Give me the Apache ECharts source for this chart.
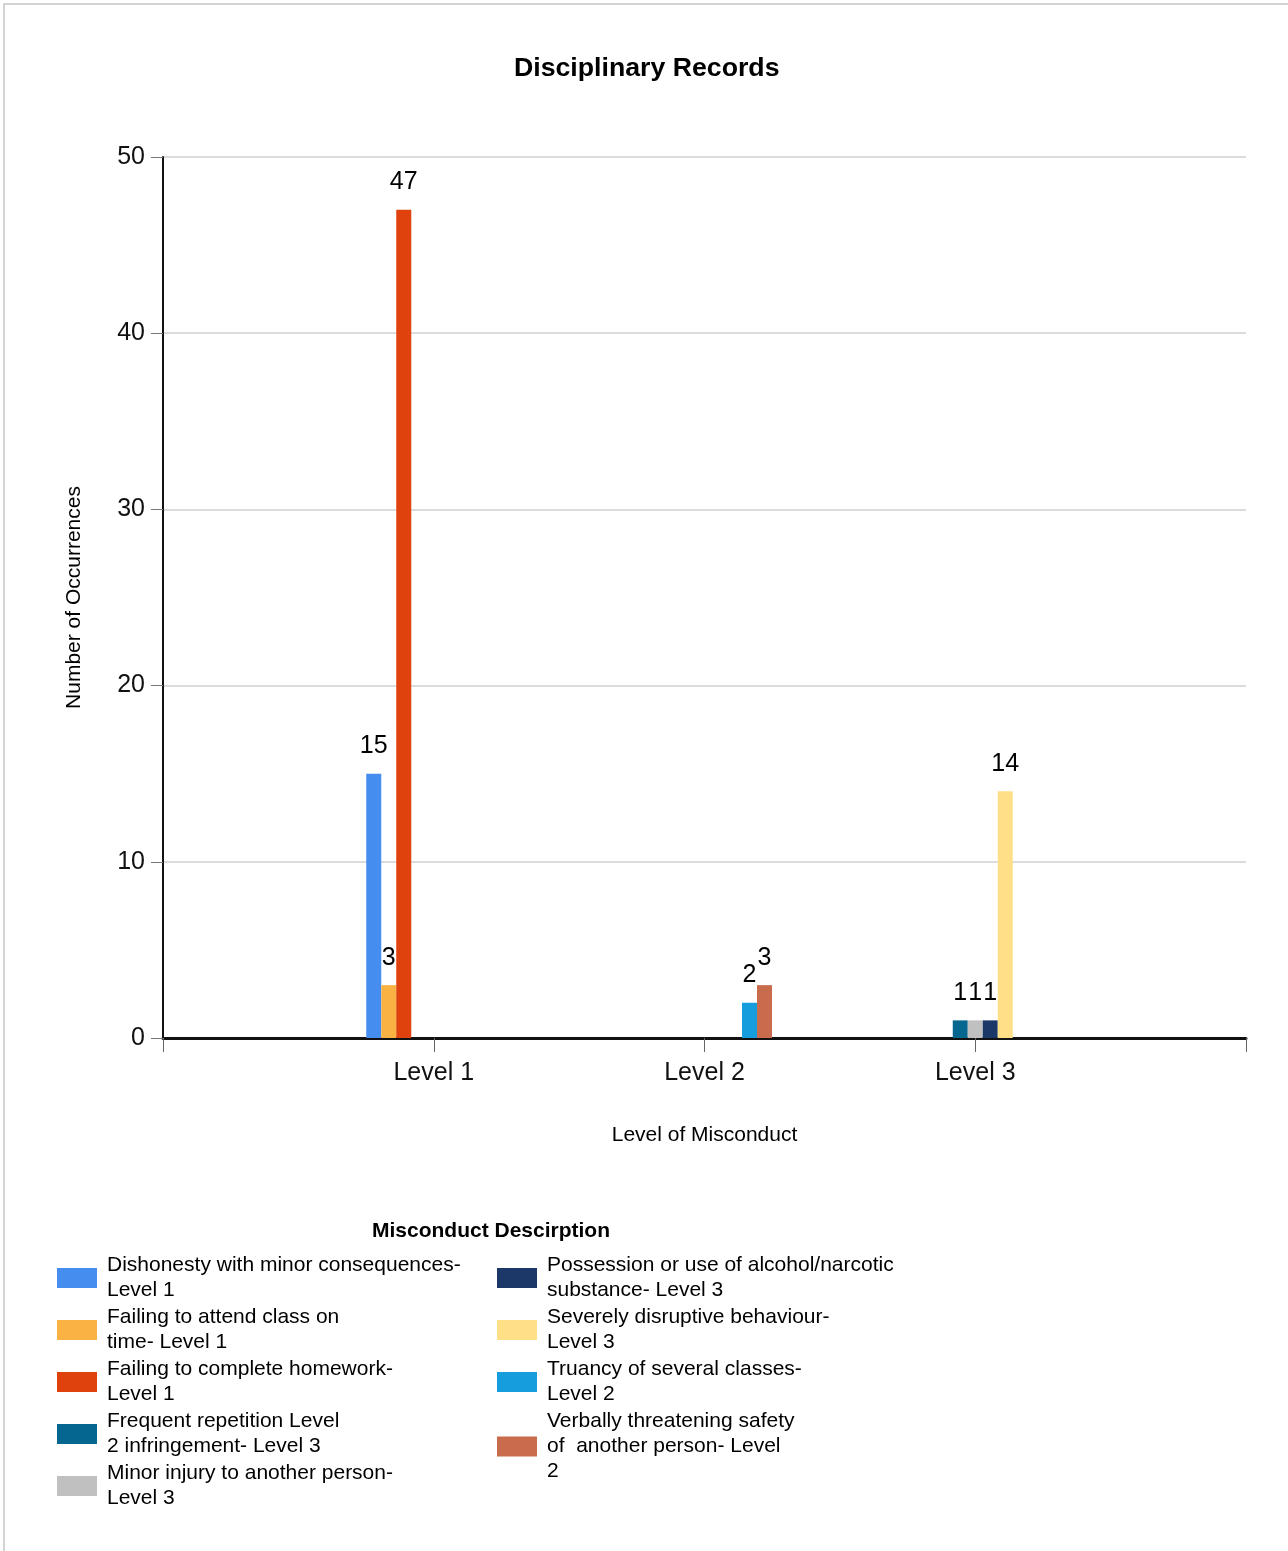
<!DOCTYPE html>
<html>
<head>
<meta charset="utf-8">
<script src="https://cdn.jsdelivr.net/npm/echarts@6/dist/echarts.min.js"></script>
<style>
  html, body { margin: 0; padding: 0; background: #fff; }
  #chart { position: absolute; left: 0; top: 0; width: 1288px; height: 1551px; }
  #frame { position: absolute; left: 3px; top: 3px; right: 0; bottom: 0; border-top: 2px solid #d4d4d4; border-left: 2px solid #d4d4d4; pointer-events: none; }
</style>
</head>
<body>
<div id="chart"></div>
<div id="frame"></div>
<script>
// ---- data ----
const categories = ['', 'Level 1', 'Level 2', 'Level 3', ''];
const seriesNames = [
  'Dishonesty with minor consequences- Level 1',
  'Failing to attend class on time- Level 1',
  'Failing to complete homework- Level 1',
  'Frequent repetition Level 2 infringement- Level 3',
  'Minor injury to another person- Level 3',
  'Possession or use of alcohol/narcotic substance- Level 3',
  'Severely disruptive behaviour- Level 3',
  'Truancy of several classes- Level 2',
  'Verbally threatening safety of  another person- Level 2'
];
const legendText = [
  'Dishonesty with minor consequences-\nLevel 1',
  'Failing to attend class on\ntime- Level 1',
  'Failing to complete homework-\nLevel 1',
  'Frequent repetition Level\n2 infringement- Level 3',
  'Minor injury to another person-\nLevel 3',
  'Possession or use of alcohol/narcotic\nsubstance- Level 3',
  'Severely disruptive behaviour-\nLevel 3',
  'Truancy of several classes-\nLevel 2',
  'Verbally threatening safety\nof  another person- Level\n2'
];
const dishonesty        = [null, 15, null, null, null];
const failingAttend     = [null, 3, null, null, null];
const failingHomework   = [null, 47, null, null, null];
const frequentRepeat    = [null, null, null, 1, null];
const minorInjury       = [null, null, null, 1, null];
const possession        = [null, null, null, 1, null];
const severelyDisrupt   = [null, null, null, 14, null];
const truancy           = [null, null, 2, null, null];
const verballyThreat    = [null, null, 3, null, null];
const seriesValues = [dishonesty, failingAttend, failingHomework, frequentRepeat, minorInjury, possession, severelyDisrupt, truancy, verballyThreat];
const colors = ['#458DEE', '#FAB343', '#DF420C', '#05668F', '#C0C0C0', '#1B3868', '#FFE086', '#159DDE', '#C96B4D'];
const yTicks = [0, 10, 20, 30, 40, 50];

const FONT = '"Liberation Sans", Arial, sans-serif';
const legendMap = {};
seriesNames.forEach((n, i) => legendMap[n] = legendText[i]);

const chart = echarts.init(document.getElementById('chart'), null, { renderer: 'canvas' });

const legendCommon = {
  orient: 'vertical',
  itemWidth: 40,
  itemHeight: 20,
  itemGap: 2,
  padding: 0,
  icon: 'rect',
  selectedMode: false,
  formatter: n => legendMap[n],
  textStyle: { fontFamily: FONT, fontSize: 21, lineHeight: 25, color: '#000', padding: [0, 0, 0, 5] }
};

const option = {
  animation: false,
  backgroundColor: '#fff',
  color: colors,
  title: [
    { text: 'Disciplinary Records', left: 514, top: 55, padding: 0,
      textStyle: { fontFamily: FONT, fontSize: 26.7, fontWeight: 'bold', color: '#000' } },
    { text: 'Misconduct Descirption', left: 372, top: 1221, padding: 0,
      textStyle: { fontFamily: FONT, fontSize: 21, fontWeight: 'bold', color: '#000' } }
  ],
  legend: [
    Object.assign({}, legendCommon, { left: 57, top: 1253, data: seriesNames.slice(0, 5) }),
    Object.assign({}, legendCommon, { left: 497, top: 1253, data: seriesNames.slice(5) })
  ],
  grid: { left: 163, right: 42, top: 157, bottom: 513, containLabel: false },
  xAxis: {
    type: 'category',
    data: categories,
    boundaryGap: false,
    name: 'Level of Misconduct',
    nameLocation: 'middle',
    nameGap: 87,
    nameTextStyle: { fontFamily: FONT, fontSize: 21, color: '#000' },
    axisLine: { show: true, lineStyle: { color: '#111', width: 3 } },
    axisTick: { show: true, length: 14, lineStyle: { color: '#666', width: 1 } },
    axisLabel: { fontFamily: FONT, fontSize: 25, color: '#111', margin: 23, interval: 0 },
    splitLine: { show: false }
  },
  yAxis: {
    type: 'value',
    min: yTicks[0],
    max: yTicks[yTicks.length - 1],
    interval: 10,
    name: 'Number of Occurrences',
    nameLocation: 'middle',
    nameGap: 78,
    nameTextStyle: { fontFamily: FONT, fontSize: 21, color: '#000' },
    axisLine: { show: true, lineStyle: { color: '#111', width: 2 } },
    axisTick: { show: true, length: 12, lineStyle: { color: '#777', width: 1 } },
    axisLabel: { fontFamily: FONT, fontSize: 25, color: '#111', margin: 18 },
    splitLine: { show: true, lineStyle: { color: '#dcdcdc', width: 2 } }
  },
  series: seriesNames.map((name, i) => ({
    name: name,
    type: 'bar',
    data: seriesValues[i],
    barWidth: 15,
    barGap: '0%',
    itemStyle: { color: colors[i] },
    label: {
      show: true,
      position: 'top',
      distance: 15,
      fontFamily: FONT,
      fontSize: 25,
      color: '#000'
    }
  }))
};

chart.setOption(option);
</script>
</body>
</html>
